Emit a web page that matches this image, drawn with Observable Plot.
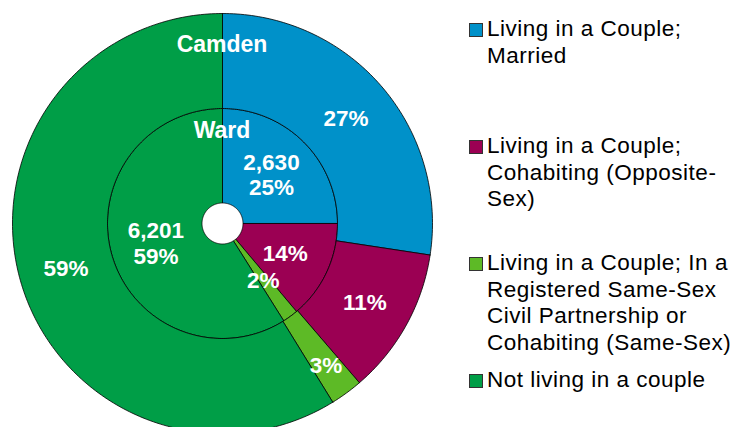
<!DOCTYPE html>
<html>
<head>
<meta charset="utf-8">
<script src="https://cdn.jsdelivr.net/npm/d3@7"></script>
<script src="https://cdn.jsdelivr.net/npm/@observablehq/plot@0.6"></script>
<style>
  html, body { margin: 0; padding: 0; background: #ffffff; }
  #wrap { position: relative; width: 739px; height: 427px; overflow: hidden; font-family: "Liberation Sans", Arial, sans-serif; }
  #chart { position: absolute; left: 0; top: 0; }
  .item { position: absolute; left: 469px; color: #000; font-size: 22.5px; letter-spacing: 0.5px; line-height: 26.7px; white-space: nowrap; }
  .item .sw { position: absolute; left: 0; top: 6.8px; width: 12px; height: 12px; border: 1px solid #333; }
  .item .tx { position: absolute; left: 18px; top: 0; }
</style>
</head>
<body>
<div id="wrap"><div id="chart"></div><div id="legend"></div></div>
<script>
// ---- data ----
const categories = [
  "Living in a Couple; Married",
  "Living in a Couple; Cohabiting (Opposite-Sex)",
  "Living in a Couple; In a Registered Same-Sex Civil Partnership or Cohabiting (Same-Sex)",
  "Not living in a couple"
];
const legendLines = [
  ["Living in a Couple;", "Married"],
  ["Living in a Couple;", "Cohabiting (Opposite-", "Sex)"],
  ["Living in a Couple; In a", "Registered Same-Sex", "Civil Partnership or", "Cohabiting (Same-Sex)"],
  ["Not living in a couple"]
];
const colors = ["#0091C9", "#9B0053", "#5DBA26", "#009E47"];
const wardCounts = [2630, 1460, 230, 6201];        // inner ring (Ward)
const camdenShares = [27.4, 11.3, 2.5, 58.8];      // outer ring (Camden), %
const ringNames = ["Ward", "Camden"];

// ---- geometry (in unit-radius data space) ----
const R_HOLE = 20.5 / 210, R_MID = 115 / 210, R_OUT = 1;
const fmt = d3.format(",");

function ringSlices(values, r0, r1, ring) {
  const total = d3.sum(values);
  let acc = 0;
  return values.map((v, i) => {
    const s = acc / total; acc += v; const e = acc / total;
    return {ring, i, category: categories[i], value: v, share: v / total, start: s, end: e, r0, r1};
  });
}
const ward = ringSlices(wardCounts, R_HOLE, R_MID, "Ward");
const camden = ringSlices(camdenShares, R_MID, R_OUT, "Camden");
const slices = [...ward, ...camden];

function polygon(sl) {
  const pts = [];
  const n = Math.max(2, Math.ceil((sl.end - sl.start) * 360));
  for (let k = 0; k <= n; k++) {
    const t = (sl.start + (sl.end - sl.start) * k / n) * 2 * Math.PI;
    pts.push({x: sl.r1 * Math.sin(t), y: sl.r1 * Math.cos(t)});
  }
  for (let k = n; k >= 0; k--) {
    const t = (sl.start + (sl.end - sl.start) * k / n) * 2 * Math.PI;
    pts.push({x: sl.r0 * Math.sin(t), y: sl.r0 * Math.cos(t)});
  }
  pts.push(pts[0]);
  return pts.map(p => ({...p, key: sl.ring + "-" + sl.i, category: sl.category}));
}
const outline = slices.flatMap(polygon);

function labelPos(sl, r) {
  const t = (sl.start + sl.end) / 2 * 2 * Math.PI;
  return {x: r * Math.sin(t), y: r * Math.cos(t)};
}
const pct = s => Math.round(s * 100) + "%";
const labels = [
  ...ward.map(sl => ({...labelPos(sl, 0.33), text: sl.share > 0.2 ? fmt(sl.value) + "\n" + pct(sl.share) : pct(sl.share)})),
  ...camden.map(sl => ({...labelPos(sl, sl.share < 0.05 ? 0.835 : 0.775), text: pct(sl.share)}))
];
const names = [
  {x: 0, y: (R_MID + R_HOLE) / 2 + 0.115, text: ringNames[0], dx: -4},
  {x: 0, y: (R_OUT + R_MID) / 2 + 0.077, text: ringNames[1], dx: 2}
];

const chart = Plot.plot({
  width: 450,
  height: 427,
  margin: 0,
  style: {background: "transparent", overflow: "visible"},
  x: {domain: [-1, 1], range: [12, 432], axis: null},
  y: {domain: [-1, 1], range: [433, 13], axis: null},
  color: {domain: categories, range: colors},
  marks: [
    Plot.line(outline, {x: "x", y: "y", z: "key", fill: "category", stroke: "#000", strokeWidth: 0.8, curve: "linear"}),
    Plot.text(labels, {x: "x", y: "y", text: "text", fill: "white", fontWeight: "bold", fontSize: 22.5, lineHeight: 1.13, fontFamily: "Liberation Sans, Arial, sans-serif"}),
    Plot.text(names, {x: "x", y: "y", text: "text", dx: "dx", fill: "white", fontWeight: "bold", fontSize: 23, fontFamily: "Liberation Sans, Arial, sans-serif"})
  ]
});
document.getElementById("chart").appendChild(chart);

// ---- legend ----
const legendTops = [16, 133, 250, 367];
const legend = document.getElementById("legend");
categories.forEach((c, i) => {
  const item = document.createElement("div");
  item.className = "item";
  item.style.top = legendTops[i] + "px";
  const sw = document.createElement("div");
  sw.className = "sw";
  sw.style.background = colors[i];
  const tx = document.createElement("div");
  tx.className = "tx";
  tx.innerHTML = legendLines[i].join("<br>");
  item.appendChild(sw); item.appendChild(tx);
  legend.appendChild(item);
});
</script>
</body>
</html>
